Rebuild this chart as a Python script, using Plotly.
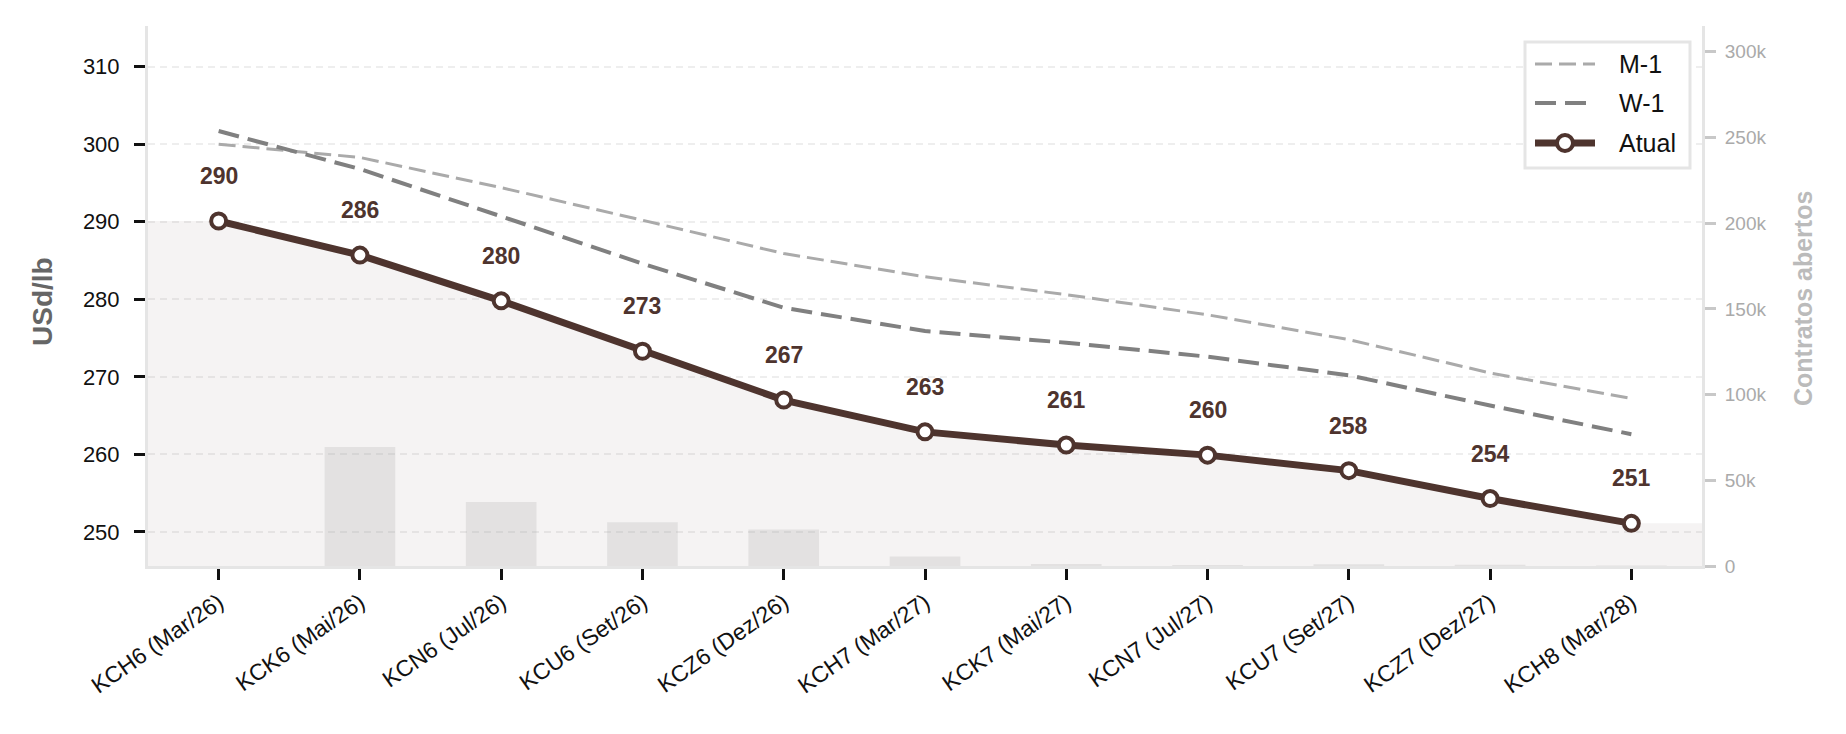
import plotly.graph_objects as go

# ---------------- data ----------------
contracts = ["KCH6 (Mar/26)", "KCK6 (Mai/26)", "KCN6 (Jul/26)", "KCU6 (Set/26)",
             "KCZ6 (Dez/26)", "KCH7 (Mar/27)", "KCK7 (Mai/27)", "KCN7 (Jul/27)",
             "KCU7 (Set/27)", "KCZ7 (Dez/27)", "KCH8 (Mar/28)"]
atual = [290.1, 285.7, 279.8, 273.3, 267.0, 262.9, 261.2, 259.9, 257.9, 254.3, 251.1]
w1 = [301.7, 296.8, 290.7, 284.6, 278.9, 275.9, 274.4, 272.6, 270.2, 266.3, 262.6]
m1 = [300.0, 298.3, 294.4, 290.2, 285.9, 282.9, 280.6, 278.0, 274.8, 270.5, 267.2]
open_interest = [0, 69400, 37300, 25500, 21300, 5500, 1200, 600, 1000, 800, 300]

price_ticks = [250, 260, 270, 280, 290, 300, 310]
oi_ticks = [0, 50000, 100000, 150000, 200000, 250000, 300000]
oi_tick_labels = ["0", "50k", "100k", "150k", "200k", "250k", "300k"]

series_names = ["M-1", "W-1", "Atual"]

# ---------------- style ----------------
FONT = "Arial, Liberation Sans, sans-serif"
BROWN = "#4e342e"
M1_STYLE = dict(color="#aaaaaa", width=3, dash="17px,7px")
W1_STYLE = dict(color="#808080", width=4, dash="21px,9px")
AT_STYLE = dict(color=BROWN, width=7)

W, H = 1846, 734
ML, MR, MT, MB = 148, 144, 26, 168
PW, PH = W - ML - MR, H - MT - MB

x_idx = list(range(len(contracts)))
X_RANGE = [-0.5, len(contracts) - 0.5]
Y_RANGE = [245.6, 315.25]
OI_RANGE = [0, 315000]


def px(xpix):
    return (xpix - ML) / PW


def py(ypix):
    return (H - MB - ypix) / PH


fig = go.Figure()

# shaded area under current curve (extended flat to the axis edges)
fig.add_trace(go.Scatter(
    x=[X_RANGE[0]] + x_idx + [X_RANGE[1]],
    y=[atual[0]] + atual + [atual[-1]],
    mode="lines", fill="tozeroy", fillcolor="rgba(78,52,46,0.06)",
    line=dict(width=0), showlegend=False, hoverinfo="skip", yaxis="y"))

# open interest bars (right axis)
fig.add_trace(go.Bar(
    x=x_idx, y=open_interest, width=0.5, yaxis="y2",
    marker=dict(color="rgba(160,160,160,0.21)", line=dict(width=0)),
    showlegend=False, hoverinfo="skip"))

fig.add_trace(go.Scatter(x=x_idx, y=m1, mode="lines", name=series_names[0],
                         line=M1_STYLE, showlegend=False))
fig.add_trace(go.Scatter(x=x_idx, y=w1, mode="lines", name=series_names[1],
                         line=W1_STYLE, showlegend=False))
fig.add_trace(go.Scatter(
    x=x_idx, y=atual, mode="lines+markers", name=series_names[2], showlegend=False,
    line=AT_STYLE,
    marker=dict(size=15, color="white", line=dict(color=BROWN, width=4))))

for xi, v in zip(x_idx, atual):
    fig.add_annotation(x=xi, y=v, xref="x", yref="y", text=f"{v:.0f}",
                       showarrow=False, yshift=45, yanchor="middle",
                       font=dict(family=FONT, size=23, color=BROWN, weight="bold"))

# ---------------- custom legend (box, handles, labels) ----------------
LEG_BOX = (1525, 42, 1690, 168)
LEG_ROWS = [64, 103, 143]
HANDLE_X = (1535, 1595)
TEXT_X = 1617
fig.add_shape(type="rect", xref="paper", yref="paper", layer="above",
              x0=px(LEG_BOX[0]), x1=px(LEG_BOX[2]), y0=py(LEG_BOX[3]), y1=py(LEG_BOX[1]),
              fillcolor="white", line=dict(color="#e5e5e5", width=3))
for style, yrow in zip([M1_STYLE, W1_STYLE, AT_STYLE], LEG_ROWS):
    fig.add_shape(type="line", xref="paper", yref="paper", layer="above",
                  x0=px(HANDLE_X[0]), x1=px(HANDLE_X[1]), y0=py(yrow), y1=py(yrow),
                  line=dict(color=style["color"], width=style["width"],
                            dash=style.get("dash", "solid")))
cx = (HANDLE_X[0] + HANDLE_X[1]) / 2
r = 8
fig.add_shape(type="circle", xref="paper", yref="paper", layer="above",
              x0=px(cx - r), x1=px(cx + r), y0=py(LEG_ROWS[2] + r), y1=py(LEG_ROWS[2] - r),
              fillcolor="white", line=dict(color=BROWN, width=4))
for name, yrow in zip(series_names, LEG_ROWS):
    fig.add_annotation(xref="paper", yref="paper", x=px(TEXT_X), y=py(yrow),
                       text=name, showarrow=False, xanchor="left", yanchor="middle",
                       font=dict(family=FONT, size=25, color="#111111"))

# ---------------- axis titles ----------------
fig.add_annotation(xref="paper", yref="paper", x=px(42), y=py(302), text="USd/lb",
                   textangle=-90, showarrow=False, xanchor="center", yanchor="middle",
                   font=dict(family=FONT, size=28, color="#666666", weight="bold"))
fig.add_annotation(xref="paper", yref="paper", x=px(1803), y=py(298),
                   text="Contratos abertos", textangle=-90, showarrow=False,
                   xanchor="center", yanchor="middle",
                   font=dict(family=FONT, size=25, color="#bbbbbb", weight="bold"))

fig.update_layout(
    width=W, height=H,
    margin=dict(l=ML, r=MR, t=MT, b=MB),
    paper_bgcolor="white", plot_bgcolor="white",
    font=dict(family=FONT, color="#111111"),
    showlegend=False,
    xaxis=dict(range=X_RANGE, tickmode="array", tickvals=x_idx, ticktext=contracts,
               tickangle=-35, ticks="outside", ticklen=11, tickwidth=2.5,
               tickcolor="#111111", showline=True, linecolor="#e5e5e5", linewidth=3,
               showgrid=False, zeroline=False,
               tickfont=dict(family=FONT, size=23, color="#111111")),
    yaxis=dict(range=Y_RANGE, tickmode="array", tickvals=price_ticks,
               ticks="outside", ticklen=11, tickwidth=2.5, tickcolor="#111111",
               ticklabelstandoff=10,
               showline=True, linecolor="#e5e5e5", linewidth=3,
               showgrid=True, gridcolor="#eeeeee", gridwidth=2, griddash="7px,5px",
               zeroline=False, tickfont=dict(family=FONT, size=22, color="#111111")),
    yaxis2=dict(range=OI_RANGE, overlaying="y", side="right", tickmode="array",
                tickvals=oi_ticks, ticktext=oi_tick_labels,
                ticks="outside", ticklen=11, tickwidth=2.5, tickcolor="#c8c8c8",
                ticklabelstandoff=5,
                showline=True, linecolor="#e5e5e5", linewidth=3,
                showgrid=False, zeroline=False,
                tickfont=dict(family=FONT, size=19, color="#aaaaaa")),
)

fig.write_html("out.html")
